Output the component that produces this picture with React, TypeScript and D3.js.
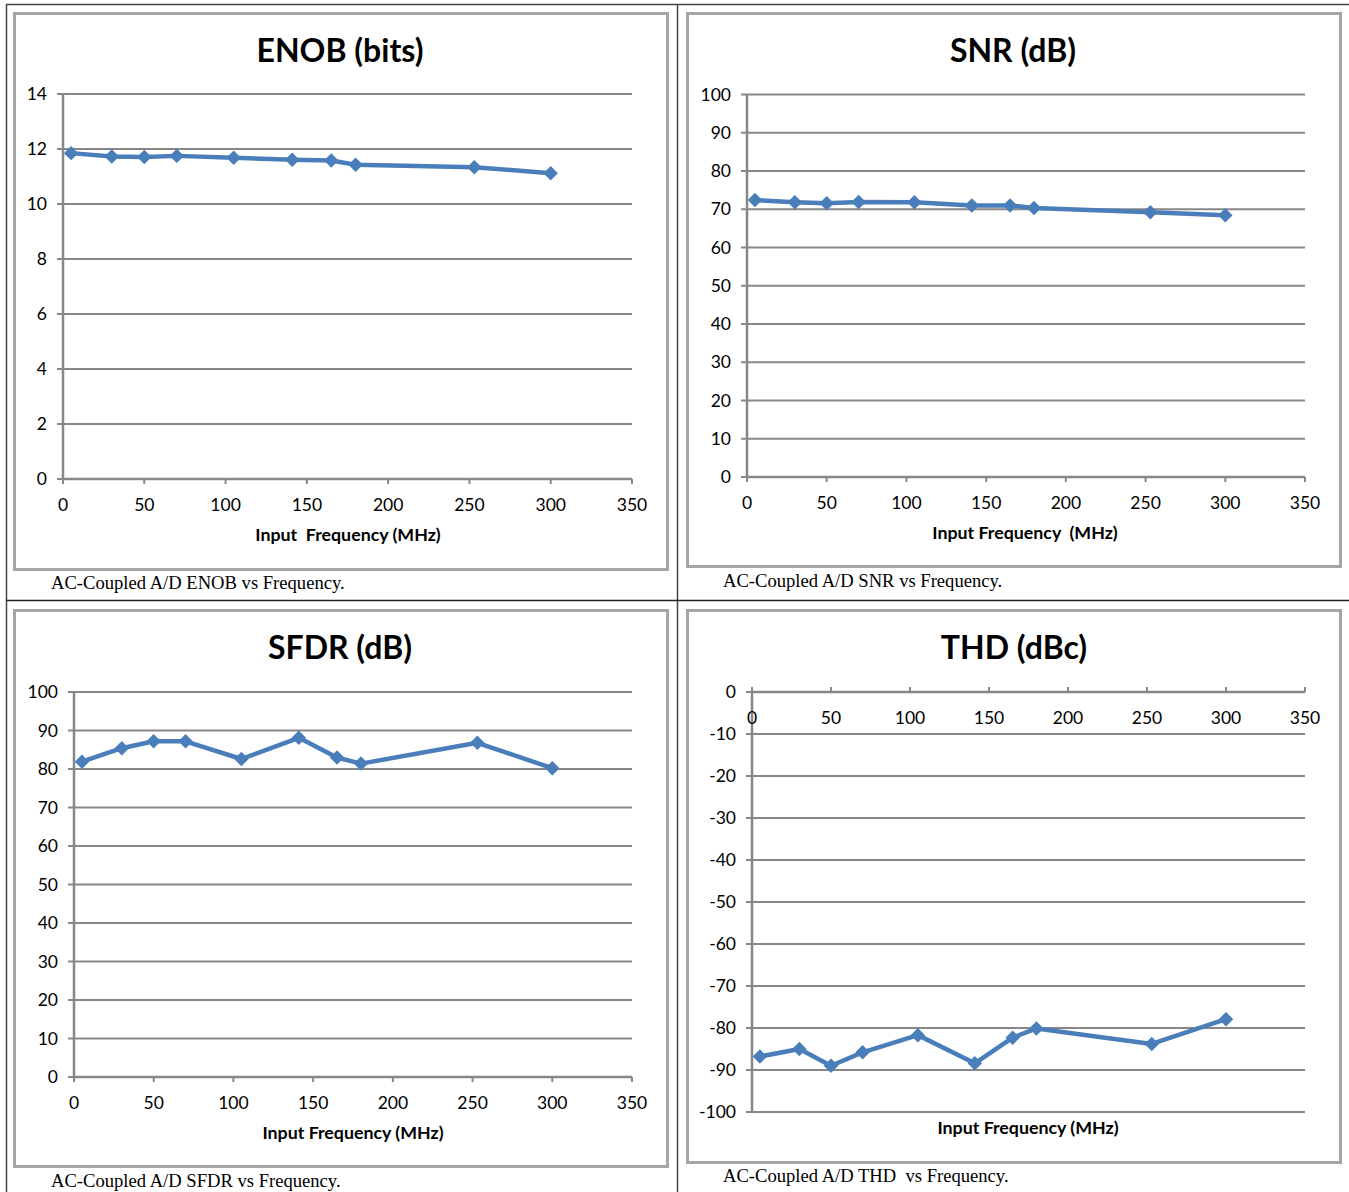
import React from 'react';
import * as d3 from 'd3';

// input frequency (MHz) for every measurement
const freq = [5, 30, 50, 70, 105, 141, 165, 180, 253, 300];

const enob = [11.85, 11.73, 11.71, 11.75, 11.68, 11.61, 11.58, 11.43, 11.34, 11.12];
const snr = [72.4, 71.8, 71.6, 71.9, 71.8, 71.0, 71.0, 70.3, 69.2, 68.4];
const sfdr = [81.9, 85.4, 87.2, 87.2, 82.6, 88.1, 83.0, 81.4, 86.8, 80.2];
const thd = [-86.8, -85.0, -89.0, -85.8, -81.7, -88.4, -82.3, -80.1, -83.8, -77.9];

const xTicks = [0, 50, 100, 150, 200, 250, 300, 350];
const enobTicks = [0, 2, 4, 6, 8, 10, 12, 14];
const dbTicks = [0, 10, 20, 30, 40, 50, 60, 70, 80, 90, 100];
const thdTicks = [0, -10, -20, -30, -40, -50, -60, -70, -80, -90, -100];

const LINE = '#4a7ebb';
const GRID = '#878787';
const FRAME = '#a5a5a5';
const SANS = 'Lato, "Open Sans", sans-serif';
const SERIF = '"Liberation Serif", "Times New Roman", serif';

interface PanelProps {
  title: string;
  xTitle: string;
  caption: string;
  values: number[];
  yDomain: [number, number];
  yTicks: number[];
  frame: { x: number; y: number; w: number; h: number };
  plot: { x0: number; x1: number; y0: number; y1: number };
  titleX: number;
  xTitleX: number;
  xTitleY: number;
  captionY: number;
  captionX: number;
  topAxis?: boolean;
}

const Panel: React.FC<PanelProps> = (p) => {
  const x = d3.scaleLinear().domain([0, 350]).range([p.plot.x0, p.plot.x1]);
  const y = d3.scaleLinear().domain(p.yDomain).range([p.plot.y1, p.plot.y0]);
  const axisY = p.topAxis ? p.plot.y0 : p.plot.y1;

  const pts = freq.map((f, i) => [x(f), y(p.values[i])] as [number, number]);
  const line = d3.line()(pts) || '';
  const diamond = d3.symbol(d3.symbolSquare, 105)() || '';

  return (
    <g>
      <rect x={p.frame.x} y={p.frame.y} width={p.frame.w} height={p.frame.h}
        fill="#fff" stroke={FRAME} strokeWidth={3} />
      <text x={p.titleX} y={p.frame.y + 48} textAnchor="middle" fontFamily={SANS}
        fontWeight="bold" fontSize={32} fill="#000">{p.title}</text>

      {/* gridlines */}
      {p.yTicks.map((t) => (
        <g key={t}>
          <line x1={p.plot.x0 - 6} x2={p.plot.x1} y1={y(t)} y2={y(t)} stroke={GRID} strokeWidth={2} />
          <text x={p.plot.x0 - 16} y={y(t)} dy="0.35em" textAnchor="end" fontFamily={SANS}
            fontSize={17.5} fill="#000">{t}</text>
        </g>
      ))}

      {/* axes */}
      <line x1={p.plot.x0} x2={p.plot.x0} y1={p.plot.y0} y2={p.plot.y1} stroke={GRID} strokeWidth={2.5} />
      <line x1={p.plot.x0} x2={p.plot.x1} y1={axisY} y2={axisY} stroke={GRID} strokeWidth={2.5} />
      {xTicks.map((t) => (
        <g key={t}>
          <line x1={x(t)} x2={x(t)} y1={axisY} y2={p.topAxis ? axisY - 5 : axisY + 5}
            stroke={GRID} strokeWidth={2} />
          <text x={x(t)} y={axisY + 32} textAnchor="middle" fontFamily={SANS}
            fontSize={17.5} fill="#000">{t}</text>
        </g>
      ))}
      <text x={p.xTitleX} y={p.xTitleY} textAnchor="middle" fontFamily={SANS} fontWeight="bold"
        fontSize={17.8} fill="#000" style={{ whiteSpace: 'pre' }}>{p.xTitle}</text>

      {/* series */}
      <path d={line} fill="none" stroke={LINE} strokeWidth={4.5} strokeLinejoin="round" />
      {pts.map(([px, py], i) => (
        <path key={i} d={diamond} transform={`translate(${px},${py}) rotate(45)`} fill={LINE} />
      ))}

      <text x={p.captionX} y={p.captionY} fontFamily={SERIF} fontSize={18.6} fill="#000"
        style={{ whiteSpace: 'pre' }}>{p.caption}</text>
    </g>
  );
};

const App: React.FC = () => {
  return (
    <svg width={1349} height={1192} viewBox="0 0 1349 1192"
      style={{ position: 'absolute', left: 0, top: 0, background: '#fff' }}>
      <rect x={0} y={0} width={1349} height={1192} fill="#fff" />

      <Panel title="ENOB (bits)" xTitle="Input  Frequency (MHz)" caption="AC-Coupled A/D ENOB vs Frequency."
        values={enob} yDomain={[0, 14]} yTicks={enobTicks}
        frame={{ x: 14.5, y: 13.5, w: 653, h: 556 }}
        plot={{ x0: 63, x1: 632, y0: 94, y1: 479 }}
        titleX={340} xTitleX={348} xTitleY={541} captionX={51} captionY={589} />

      <Panel title="SNR (dB)" xTitle="Input Frequency  (MHz)" caption="AC-Coupled A/D SNR vs Frequency."
        values={snr} yDomain={[0, 100]} yTicks={dbTicks}
        frame={{ x: 687.5, y: 13.5, w: 653, h: 553 }}
        plot={{ x0: 747, x1: 1305, y0: 94.5, y1: 477 }}
        titleX={1013} xTitleX={1025} xTitleY={539} captionX={723} captionY={587} />

      <Panel title="SFDR (dB)" xTitle="Input Frequency (MHz)" caption="AC-Coupled A/D SFDR vs Frequency."
        values={sfdr} yDomain={[0, 100]} yTicks={dbTicks}
        frame={{ x: 14.5, y: 610.5, w: 653, h: 556 }}
        plot={{ x0: 74, x1: 632, y0: 692, y1: 1077 }}
        titleX={340} xTitleX={353} xTitleY={1139} captionX={51} captionY={1187} />

      <Panel title="THD (dBc)" xTitle="Input Frequency (MHz)" caption="AC-Coupled A/D THD  vs Frequency."
        values={thd} yDomain={[-100, 0]} yTicks={thdTicks}
        frame={{ x: 687.5, y: 610.5, w: 653, h: 552 }}
        plot={{ x0: 752, x1: 1305, y0: 692, y1: 1112 }}
        titleX={1014} xTitleX={1028} xTitleY={1134} captionX={723} captionY={1182} topAxis />

      {/* table borders */}
      <line x1={6} x2={1349} y1={4.5} y2={4.5} stroke="#444" strokeWidth={1.5} />
      <line x1={6.5} x2={6.5} y1={4} y2={1192} stroke="#444" strokeWidth={1.5} />
      <line x1={677.5} x2={677.5} y1={4} y2={1192} stroke="#444" strokeWidth={1.5} />
      <line x1={6} x2={1349} y1={600.5} y2={600.5} stroke="#222" strokeWidth={1.5} />
    </svg>
  );
};

export default App;
